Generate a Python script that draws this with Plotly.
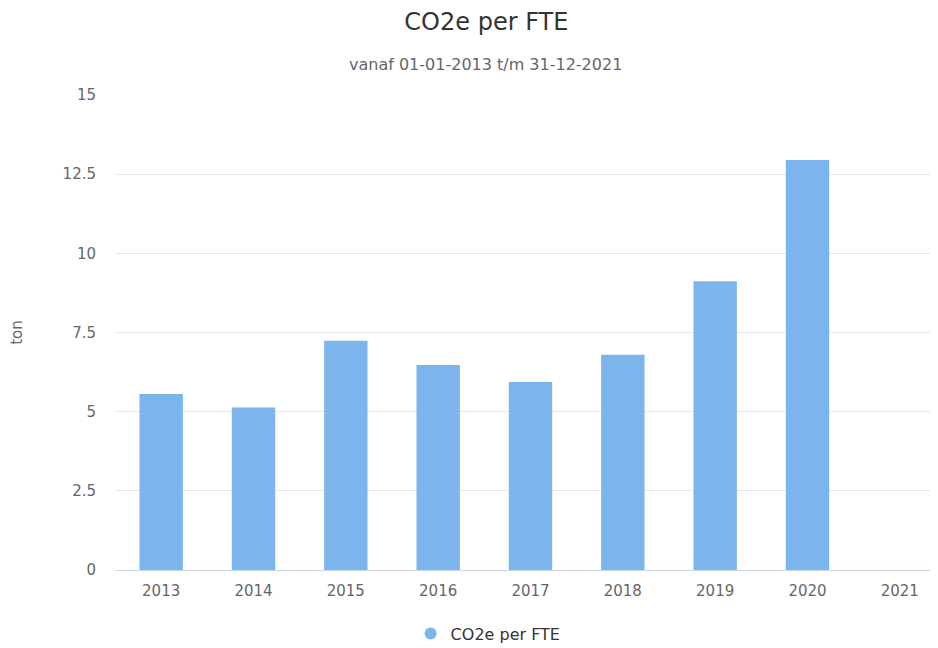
import plotly.graph_objects as go

years = ["2013", "2014", "2015", "2016", "2017", "2018", "2019", "2020", "2021"]
co2e_per_fte = [5.56, 5.13, 7.24, 6.47, 5.94, 6.80, 9.12, 12.95, None]
series_name = "CO2e per FTE"
y_ticks = [0, 2.5, 5, 7.5, 10, 12.5, 15]
y_tick_labels = ["0", "2.5", "5", "7.5", "10", "12.5", "15"]

bar_color = "#7cb5ec"
font_family = "DejaVu Sans"

fig = go.Figure()
fig.add_trace(go.Bar(
    x=years, y=co2e_per_fte, name=series_name,
    marker=dict(color=bar_color, line=dict(width=0)),
    showlegend=False,
))
# legend entry with circular symbol
fig.add_trace(go.Scatter(
    x=[None], y=[None], mode="markers", name=series_name,
    marker=dict(color=bar_color, size=16, symbol="circle"),
    showlegend=True,
))

fig.update_layout(
    width=938, height=648,
    paper_bgcolor="white", plot_bgcolor="white",
    font=dict(family=font_family, color="#666666", size=15),
    margin=dict(l=107, r=0, t=87, b=86),
    bargap=0.53,
    title=dict(text="CO2e per FTE", x=0.51, xref="container", xanchor="center",
               y=1 - 14 / 648, yref="container", yanchor="middle",
               font=dict(size=24, color="#333333", family=font_family)),
    legend=dict(orientation="h", x=0.449, xanchor="center", y=-0.134, yanchor="middle",
                font=dict(size=16, color="#333333"), itemsizing="constant"),
)
fig.add_annotation(text="vanaf 01-01-2013 t/m 31-12-2021", xref="paper", yref="paper",
                   x=0.446, y=1 + (94 - 63) / 476, xanchor="center", yanchor="middle",
                   showarrow=False, font=dict(size=16, color="#666666", family=font_family))

fig.update_xaxes(
    type="category", categoryorder="array", categoryarray=years,
    showgrid=False, showline=True, linecolor="#ccd6eb", linewidth=1,
    ticks="", tickfont=dict(size=15, color="#666666"), ticklabelstandoff=7,
)
fig.update_yaxes(
    range=[0, 15], tickvals=y_ticks, ticktext=y_tick_labels,
    showgrid=True, gridcolor="#e6e6e6", gridwidth=1, zeroline=False, showline=False,
    ticks="", tickfont=dict(size=15, color="#666666"), ticklabelstandoff=18,
    title=dict(text="ton", font=dict(size=15, color="#666666"), standoff=42),
)

fig.write_html("out.html")
